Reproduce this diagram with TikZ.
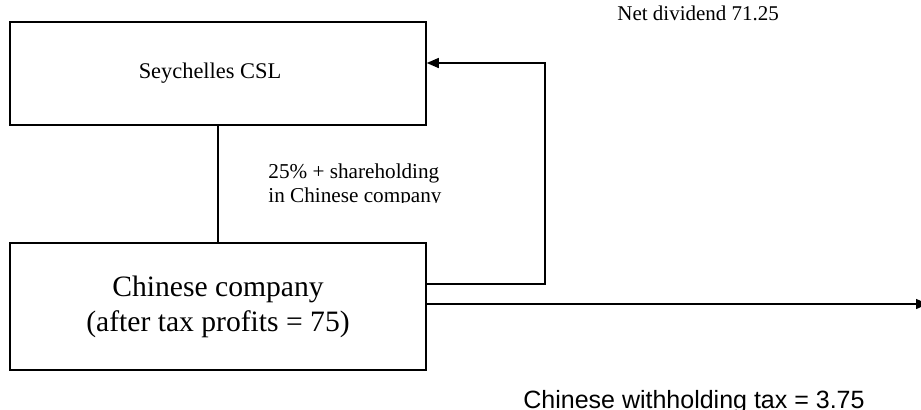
\documentclass[tikz,border=0pt]{standalone}
\usepackage{fontspec}
\setmainfont{Liberation Serif}
\newfontfamily\labelsans{Liberation Sans}
\usetikzlibrary{arrows.meta,positioning,calc}
\tikzset{
  box/.style={draw,line width=0.75pt,rectangle,minimum width=208pt,inner sep=0pt,align=center},
  flow/.style={draw,line width=0.65pt,-{Triangle[length=6pt,width=5pt]}},
  link/.style={draw,line width=0.65pt}
}

\begin{document}
\begin{tikzpicture}[x=0.5pt,y=-0.5pt]
    % fix the page size
    \useasboundingbox (0,0) rectangle (921,409);

    % draw the two companies
    \node[box,minimum height=51.5pt,font=\fontsize{11.2}{13.5}\selectfont] (csl) at (218,73.5) {\raisebox{3pt}{Seychelles CSL}\hspace{8pt}};
    \node[box,minimum height=63.5pt,font=\fontsize{14.8}{17.5}\selectfont] (ccomp) at (218,306.5) {Chinese company\\(after tax profits = 75)};

    % shareholding line between the boxes
    \draw[link] (csl.south) -- (ccomp.north);

    % label the shareholding (cut off by its text box)
    \begin{scope}
        \clip (250,140) rectangle (470,202);
        \node[anchor=base west,inner sep=0pt,align=left,font=\fontsize{10.6}{12}\selectfont] (share) at (268,202) {25\% + shareholding\\in Chinese company};
    \end{scope}

    % dividend going back up to the Seychelles company
    \coordinate (turn) at (545,63);
    \draw[flow] ([yshift=11.25pt]ccomp.east) -| (turn) -- (csl.east |- turn);
    \node[anchor=base west,inner sep=0pt,font=\fontsize{10.5}{12}\selectfont] (div) at (617,20) {Net dividend 71.25};

    % withholding tax going out to the right
    \coordinate (taxend) at (928,304);
    \draw[flow] (ccomp.east |- taxend) -- (taxend);
    \node[anchor=base west,inner sep=0pt,font=\labelsans\fontsize{12.5}{14}\selectfont] (tax) at (523,408) {Chinese withholding tax = 3.75};
\end{tikzpicture}
\end{document}
